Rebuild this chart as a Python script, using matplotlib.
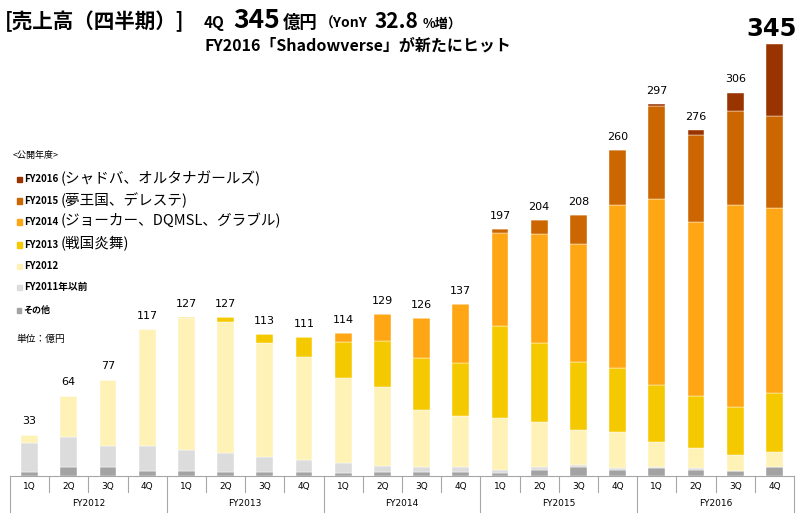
import matplotlib
matplotlib.use("Agg")
import matplotlib.pyplot as plt
import numpy as np

plt.rcParams['font.family'] = ['Noto Sans CJK JP', 'DejaVu Sans']

fiscal_years = ["FY2012", "FY2013", "FY2014", "FY2015", "FY2016"]
quarters = ["1Q", "2Q", "3Q", "4Q"]
totals = [33, 64, 77, 117, 127, 127, 113, 111, 114, 129, 126, 137,
          197, 204, 208, 260, 297, 276, 306, 345]

other  = [3, 7, 7, 4, 4, 3, 3, 3, 2, 3, 3, 3, 2, 5, 7, 5, 6, 5, 4, 7]
fy2011 = [23, 24, 17, 20, 17, 15, 12, 10, 8, 5, 4, 4, 3, 2, 2, 1, 1, 1, 0, 0]
fy2012 = [7, 33, 53, 93, 105, 105, 91, 82, 68, 63, 46, 41, 41, 36, 28, 29, 20, 16, 13, 12]
fy2013 = [0, 0, 0, 0, 1, 4, 7, 16, 29, 37, 41, 42, 74, 63, 54, 51, 46, 42, 38, 47]
fy2014 = [0, 0, 0, 0, 0, 0, 0, 0, 7, 21, 32, 47, 74, 87, 94, 130, 148, 139, 161, 148]
fy2015 = [0, 0, 0, 0, 0, 0, 0, 0, 0, 0, 0, 0, 3, 11, 23, 44, 74, 69, 75, 73]
fy2016 = [0, 0, 0, 0, 0, 0, 0, 0, 0, 0, 0, 0, 0, 0, 0, 0, 2, 4, 15, 58]

series = [
    ("その他", other, "#A3A3A3"),
    ("FY2011年以前", fy2011, "#DCDCDC"),
    ("FY2012", fy2012, "#FFF2B6"),
    ("FY2013", fy2013, "#F5C900"),
    ("FY2014", fy2014, "#FFA615"),
    ("FY2015", fy2015, "#CC6600"),
    ("FY2016", fy2016, "#993300"),
]

W, H = 800, 513
fig = plt.figure(figsize=(W / 100, H / 100), dpi=100)
ax_left, ax_right, ax_base = 10, 794, 476
ax = fig.add_axes([ax_left / W, (H - ax_base) / H, (ax_right - ax_left) / W, ax_base / H])
ax.set_xlim(-0.5, 19.5)
ax.set_ylim(0, 380)
ax.axis('off')

x = np.arange(len(totals))
bottom = np.zeros(len(totals))
for name, vals, col in series:
    v = np.array(vals, dtype=float)
    ax.bar(x, v, bottom=bottom, width=0.43, color=col, edgecolor='#FFFFFF', linewidth=0.3)
    bottom += v

for i, t in enumerate(totals):
    if i == len(totals) - 1:
        ax.annotate(str(t), (i, bottom[i]), xytext=(-2, 2), textcoords='offset points',
                    ha='center', va='bottom', fontsize=17.5, fontweight='bold', family='DejaVu Sans')
    else:
        ax.annotate(str(t), (i, bottom[i]), xytext=(0, 6), textcoords='offset points',
                    ha='center', va='bottom', fontsize=8, family='DejaVu Sans')

# x-axis: baseline, separators and category labels
tr = ax.get_xaxis_transform()
axc = '#A6A6A6'
ax.plot([-0.5, 19.5], [0, 0], color=axc, lw=0.8, transform=tr, clip_on=False)
q_drop = -16 / ax_base
g_drop = -37 / ax_base
for k in range(21):
    xs = k - 0.5
    y1 = g_drop if k % 4 == 0 else q_drop
    ax.plot([xs, xs], [0, y1], color=axc, lw=0.8, transform=tr, clip_on=False)
for i in range(20):
    ax.text(i, -10 / ax_base, quarters[i % 4], transform=tr, ha='center', va='center',
            fontsize=6.5, family='DejaVu Sans')
for g, fy in enumerate(fiscal_years):
    ax.text(g * 4 + 1.5, -27 / ax_base, fy, transform=tr, ha='center', va='center',
            fontsize=6.5, family='DejaVu Sans')


def ptext(px, py, s, size, weight='normal', ha='left', va='baseline', color='black', family=None):
    kw = {}
    if family is not None:
        kw['family'] = family
    fig.text(px / W, 1 - py / H, s, fontsize=size, fontweight=weight, ha=ha, va=va, color=color, **kw)


# Titles
ptext(5, 28, "[売上高（四半期）]", 14.8, 'bold')
ptext(204, 28, "4Q", 11, 'bold')
ptext(233, 28, "345", 19, 'bold')
ptext(283, 28, "億円", 12.5, 'bold')
ptext(320, 28, "（YonY", 10, 'bold')
ptext(375, 28, "32.8", 15, 'bold')
ptext(423, 28, "%増）", 9.5, 'bold')
ptext(204, 51, "FY2016「Shadowverse」が新たにヒット", 11.5, 'bold')

# Legend
ptext(13, 155, "<公開年度>", 6.5, va='center')
legend_rows = [
    ("FY2016", "(シャドバ、オルタナガールズ)", "#993300", 179),
    ("FY2015", "(夢王国、デレステ)", "#CC6600", 201),
    ("FY2014", "(ジョーカー、DQMSL、グラブル)", "#FFA615", 222),
    ("FY2013", "(戦国炎舞)", "#F5C900", 245),
    ("FY2012", "", "#FFF2B6", 266),
    ("FY2011年以前", "", "#DCDCDC", 287),
]
for lab, extra, col, py in legend_rows:
    fig.patches.append(plt.Rectangle((17 / W, 1 - (py + 2.5) / H), 5 / W, 5 / H,
                                     transform=fig.transFigure, color=col, figure=fig))
    ptext(24, py, lab, 7, 'bold', va='center')
    if extra:
        ptext(61, py - 1, extra, 10.5, va='center')
fig.patches.append(plt.Rectangle((17 / W, 1 - (310 + 2.5) / H), 4 / W, 5 / H,
                                 transform=fig.transFigure, color="#A3A3A3", figure=fig))
ptext(23, 310, "その他", 6.5, 'bold', va='center')
ptext(16, 339, "単位：億円", 7, va='center')

fig.savefig("out.png", dpi=100)
